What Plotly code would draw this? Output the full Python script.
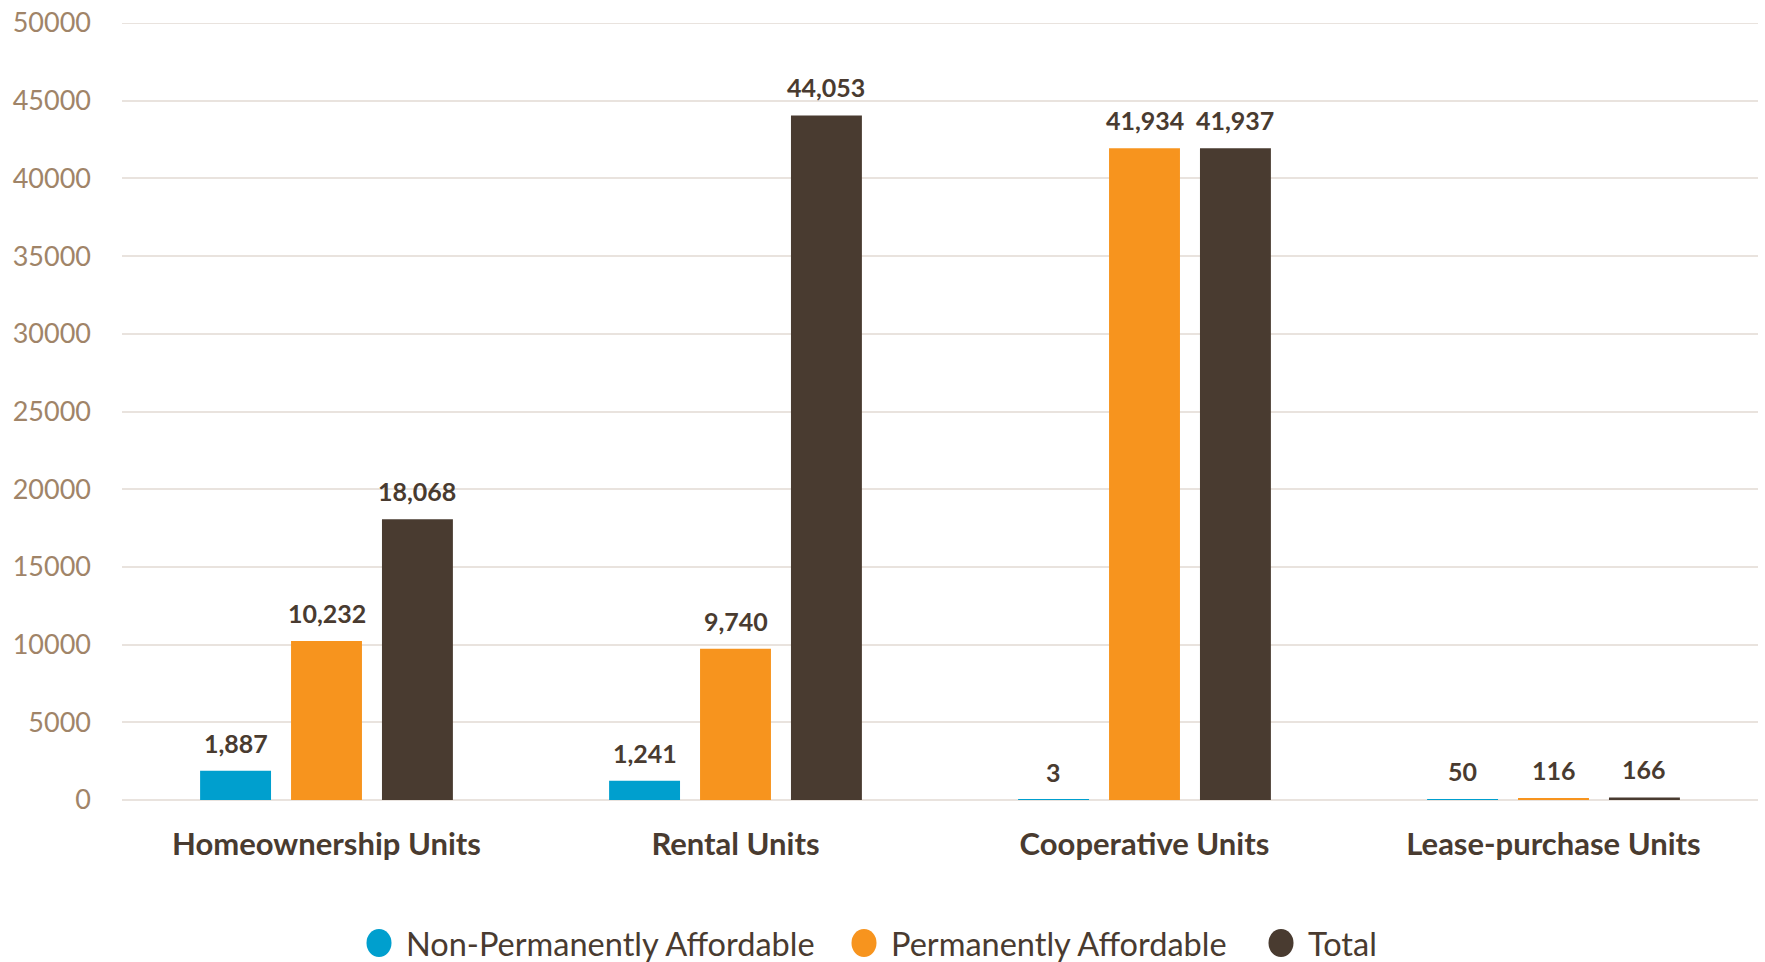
import plotly.graph_objects as go

categories = ["Homeownership Units", "Rental Units", "Cooperative Units", "Lease-purchase Units"]
non_permanent = [1887, 1241, 3, 50]
permanent = [10232, 9740, 41934, 116]
total = [18068, 44053, 41937, 166]
series_names = ["Non-Permanently Affordable", "Permanently Affordable", "Total"]
colors = ["#009FCE", "#F7941E", "#493B30"]
y_ticks = [0, 5000, 10000, 15000, 20000, 25000, 30000, 35000, 40000, 45000, 50000]

FONT = "Lato"
DARK = "#493B30"
GRID = "#E9E3DE"
W, H = 1765, 962
ML, MR, MT, MB = 122, 7, 23, 162
PW, PH = W - ML - MR, H - MT - MB
BARGAP, BARGROUPGAP = 0.333, 0.22

fig = go.Figure()
all_series = [non_permanent, permanent, total]
for name, vals, col in zip(series_names, all_series, colors):
    fig.add_trace(go.Bar(
        x=categories, y=vals, name=name, marker_color=col, marker_line_width=0,
        showlegend=False,
    ))

# value labels, placed in data coordinates above each bar
cat_px = PW / len(categories)
slot_px = cat_px * (1 - BARGAP) / len(all_series)
for si, vals in enumerate(all_series):
    shift = (si - (len(all_series) - 1) / 2) * slot_px
    for c, v in zip(categories, vals):
        fig.add_annotation(
            x=c, y=v, text=f"<b>{v:,}</b>", showarrow=False,
            xshift=shift, yshift=28, yanchor="middle",
            font=dict(family=FONT, size=25, color=DARK),
        )

# custom legend (large circular swatches)
legend_dot_px = [379, 864, 1281]
legend_text_px = [404, 889, 1306]
legend_y_px = 943
ly = (H - MB - legend_y_px) / PH
for name, col, dx, tx in zip(series_names, colors, legend_dot_px, legend_text_px):
    fig.add_shape(
        type="circle", xref="paper", yref="paper", xsizemode="pixel", ysizemode="pixel",
        xanchor=(dx - ML) / PW, yanchor=ly, x0=-12.5, x1=12.5, y0=-14, y1=14,
        fillcolor=col, line_width=0,
    )
    fig.add_annotation(
        xref="paper", yref="paper", x=(tx - ML) / PW, y=ly, xanchor="left", yanchor="middle",
        text=name, showarrow=False,
        font=dict(family=FONT, size=32.5, color=DARK),
    )

# top gridline (plotly omits the gridline at the range edge)
fig.add_shape(type="line", xref="paper", yref="y", x0=0, x1=1, y0=50000, y1=50000,
              line=dict(color=GRID, width=2), layer="below")

fig.update_layout(
    width=W, height=H,
    margin=dict(l=ML, r=MR, t=MT, b=MB, autoexpand=False),
    paper_bgcolor="white", plot_bgcolor="white",
    barmode="group", bargap=BARGAP, bargroupgap=BARGROUPGAP,
    font=dict(family=FONT, color=DARK),
    showlegend=False,
)
fig.update_xaxes(
    showgrid=False, showline=False, zeroline=False, automargin=False,
    tickfont=dict(family=FONT, size=31, color=DARK, weight="bold"),
    ticklabelstandoff=23, ticklabeloverflow="allow",
)
fig.update_yaxes(
    range=[0, 50000], tickvals=y_ticks, ticktext=[str(t) for t in y_ticks],
    showgrid=True, gridcolor=GRID, gridwidth=2, automargin=False,
    zeroline=True, zerolinecolor=GRID, zerolinewidth=2, showline=False,
    tickfont=dict(family=FONT, size=27, color="#A08468"),
    ticklabelstandoff=30, ticklabeloverflow="allow",
)
fig.write_html(
    "out.html",
    config={"displayModeBar": False},
    post_script="document.body.style.margin='0';document.body.style.overflow='hidden';",
)
